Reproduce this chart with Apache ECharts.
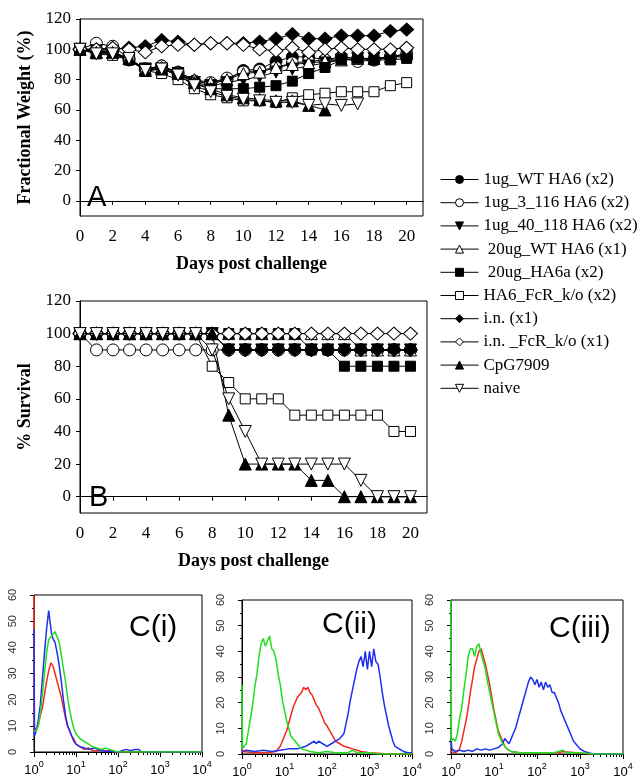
<!DOCTYPE html>
<html><head><meta charset="utf-8">
<script src="https://cdn.jsdelivr.net/npm/echarts@6/dist/echarts.min.js"></script>
<style>html,body{margin:0;padding:0;background:#fff}#c{width:643px;height:780px}</style>
</head><body><div id="c"></div><script>
// ---------- Panel A / B data ----------
const days = [0,1,2,3,4,5,6,7,8,9,10,11,12,13,14,15,16,17,18,19,20];
const dayTicks = [0,2,4,6,8,10,12,14,16,18,20];
const pctTicks = [0,20,40,60,80,100,120];
const names = ['1ug_WT HA6 (x2)','1ug_3_116 HA6 (x2)','1ug_40_118 HA6 (x2)',' 20ug_WT HA6 (x1)',' 20ug_HA6a (x2)','HA6_FcR_k/o (x2)','i.n. (x1)','i.n. _FcR_k/o (x1)','CpG7909','naive'];

// Fractional weight (%)
const wWT1    = [100,99,99,93,87,89,84,79,77,80,86,87,92,95,95,93,95,94,93,95,95];
const w3116   = [100,104,102,94,87,89,85,79,78,81,85,86,88,91,92,93,94,92,93,95,97];
const w40118  = [100,99,98,93,87,87,84,78,76,78,80,82,85,87,89,91,93,94,94,95,96];
const w20WT   = [100,98,98,94,87,88,85,80,78,80,84,85,88,90,91,92,93,94,94,95,97];
const wHA6a   = [100,98,97,93,86,87,83,77,74,74,74,75,76,79,84,88,93,94,93,93,94];
const wFcR    = [100,97,96,93,86,84,80,74,70,68,66,66,65,68,70,71,72,72,72,76,78];
const wIn     = [100,100,100,101,102,106,105,103,104,104,104,105,107,110,107,107,109,109,109,112,113];
const wInFcR  = [100,100,101,100,98,102,103,103,104,104,103,100,99,101,98,100,101,100,100,100,101];
const wCpG    = [100,98,98,94,86,87,84,78,74,70,68,67,66,66,63,60];
const wNaive  = [100,97,97,94,86,87,83,76,72,69,67,66,65,65,63,64,63,64];

// % Survival
const sWT1    = [100,100,100,100,100,100,100,100,100,90,90,90,90,90,90,90,90,90,90,90,90];
const s3116   = [100,90,90,90,90,90,90,90,90,90,90,90,90,90,90,90,90,90,90,90,90];
const s40118  = [100,100,100,100,100,100,100,100,100,90,90,90,90,90,90,90,90,90,90,90,90];
const s20WT   = [100,100,100,100,100,100,100,100,100,100,100,100,100,100,100,100,100,90,90,90,90];
const sHA6a   = [100,100,100,100,100,100,100,100,100,100,100,100,100,100,90,90,80,80,80,80,80];
const sFcR    = [100,100,100,100,100,100,100,100,80,70,60,60,60,50,50,50,50,50,50,40,40];
const sIn     = [100,100,100,100,100,100,100,100,100,90,90,90,90,90,90,90,90,90,90,90,90];
const sInFcR  = [100,100,100,100,100,100,100,100,100,100,100,100,100,100,100,100,100,100,100,100,100];
const sCpG    = [100,100,100,100,100,100,100,100,100,50,20,20,20,20,10,10,0,0,0,0,0];
const sNaive  = [100,100,100,100,100,100,100,100,90,60,40,20,20,20,20,20,20,10,0,0,0];

const weights = [wWT1,w3116,w40118,w20WT,wHA6a,wFcR,wIn,wInFcR,wCpG,wNaive];
const survival = [sWT1,s3116,s40118,s20WT,sHA6a,sFcR,sIn,sInFcR,sCpG,sNaive];
const symbols = ['circle','circle','triangle','triangle','rect','rect','diamond','diamond','triangle','triangle'];
const rotations = [0,0,180,0,0,0,0,0,0,180];
const filled = [true,false,true,false,true,false,true,false,true,false];
const sizes = {circle:12, triangle:12, rect:10, diamond:[14,13]};

// ---------- Panel C data (x = decades of log10 intensity, y = counts) ----------
const cExp = ['0','1','2','3','4'];
const cCounts = [0,10,20,30,40,50,60];
const c1Red = [[0,60],[0.01,8],[0.05,9],[0.1,10],[0.15,14],[0.2,17],[0.25,22],[0.3,27],[0.35,31],[0.4,34],[0.45,33],[0.5,30],[0.55,27],[0.6,24],[0.65,21],[0.7,17],[0.75,13],[0.8,10],[0.85,8],[0.9,6],[0.95,5],[1.0,3],[1.1,2],[1.2,1],[1.3,1.5],[1.4,0.5],[1.5,0.5],[1.6,1],[1.7,0.3],[1.8,0.5],[1.9,0],[4,0]];
const c1Blue = [[0,47],[0.01,6],[0.05,8],[0.1,12],[0.15,18],[0.2,28],[0.25,38],[0.3,47],[0.35,54],[0.38,50],[0.42,45],[0.46,43],[0.5,42],[0.55,38],[0.6,33],[0.65,27],[0.7,20],[0.75,14],[0.8,10],[0.85,8],[0.9,6],[0.95,4],[1.0,3],[1.1,2],[1.2,1.5],[1.3,1],[1.45,1.5],[1.6,0.5],[1.8,0.3],[2.0,0],[2.2,1],[2.3,0.5],[2.4,1],[2.5,1],[2.55,0],[4,0]];
const c1Green = [[0,8],[0.05,8],[0.1,10],[0.15,15],[0.2,22],[0.25,30],[0.3,38],[0.35,43],[0.4,44],[0.45,45],[0.5,46],[0.55,44],[0.6,42],[0.65,37],[0.7,32],[0.75,27],[0.8,21],[0.85,16],[0.9,12],[0.95,9],[1.0,7],[1.05,6],[1.1,5],[1.2,4],[1.3,3],[1.4,2],[1.5,1.5],[1.6,1],[1.7,1.5],[1.8,1],[1.9,0.5],[2.0,0],[4,0]];

const c2Red = [[0,2],[0.02,1],[0.3,0.5],[0.6,0.5],[0.8,1],[0.9,3],[1.0,7],[1.05,9],[1.1,12],[1.15,15],[1.2,18],[1.25,20],[1.3,22],[1.35,23],[1.4,24],[1.45,26],[1.5,25],[1.55,26],[1.6,24],[1.65,23],[1.7,21],[1.75,19],[1.8,18],[1.85,16],[1.9,14],[1.95,12],[2.0,11],[2.1,8],[2.2,5],[2.3,4],[2.4,3],[2.5,2.5],[2.6,2],[2.8,1],[3.0,0.5],[3.2,0.3],[3.4,0],[4,0]];
const c2Blue = [[0,1],[0.1,1.5],[0.3,1],[0.5,1.5],[0.7,1],[0.9,1.5],[1.1,2],[1.3,2],[1.5,3],[1.6,4],[1.7,5],[1.75,4],[1.8,5],[1.9,4],[2.0,3],[2.1,4],[2.2,5],[2.3,6],[2.35,7],[2.4,8],[2.45,12],[2.5,16],[2.55,21],[2.6,25],[2.65,29],[2.7,33],[2.75,36],[2.8,38],[2.85,34],[2.9,40],[2.95,33],[3.0,40],[3.05,34],[3.1,41],[3.15,36],[3.2,35],[3.25,30],[3.3,24],[3.35,19],[3.4,15],[3.45,11],[3.5,8],[3.55,5],[3.6,3],[3.7,2],[3.8,1],[3.9,0.5],[4,0.5]];
const c2Green = [[0,27],[0.01,2],[0.05,3],[0.1,4],[0.15,9],[0.2,14],[0.25,19],[0.3,26],[0.35,31],[0.4,38],[0.45,43],[0.5,45],[0.55,42],[0.6,44],[0.65,46],[0.7,41],[0.75,40],[0.8,37],[0.85,31],[0.9,27],[0.95,21],[1.0,17],[1.05,13],[1.1,10],[1.15,7],[1.2,6],[1.3,4],[1.4,2],[1.5,1.5],[1.6,1],[1.8,0.5],[2.0,1],[2.2,0.5],[2.5,0.5],[2.6,1.5],[2.7,0.5],[3.0,0.5],[3.2,0],[4,0]];

const c3Red = [[0,1],[0.1,0.5],[0.15,1],[0.2,2],[0.25,5],[0.3,9],[0.35,13],[0.4,18],[0.45,24],[0.5,29],[0.55,34],[0.6,37],[0.65,40],[0.7,41],[0.75,38],[0.8,35],[0.85,31],[0.9,27],[0.95,22],[1.0,17],[1.05,13],[1.1,9],[1.15,7],[1.2,5],[1.25,3],[1.3,2],[1.4,1],[1.6,0.5],[2.0,0.5],[2.5,0.5],[2.6,1],[3.0,0.3],[3.3,0],[4,0]];
const c3Blue = [[0,6],[0.02,2],[0.1,1],[0.2,1.5],[0.3,1],[0.4,1.5],[0.5,1],[0.6,2],[0.7,1.5],[0.8,2],[0.9,1.5],[1.0,2],[1.1,2.5],[1.2,4],[1.25,6],[1.3,5],[1.35,4],[1.4,6],[1.45,8],[1.5,10],[1.55,13],[1.6,16],[1.65,19],[1.7,22],[1.75,25],[1.8,28],[1.85,30],[1.9,29],[1.95,27],[2.0,29],[2.05,26],[2.1,28],[2.15,25],[2.2,28],[2.25,26],[2.3,27],[2.35,24],[2.4,24],[2.45,22],[2.5,20],[2.55,17],[2.6,15],[2.65,13],[2.7,11],[2.75,9],[2.8,7],[2.85,5],[2.9,4],[3.0,2],[3.1,1],[3.2,0.5],[3.3,0],[4,0]];
const c3Green = [[0,60],[0.01,5],[0.05,6],[0.1,5],[0.15,8],[0.2,14],[0.25,18],[0.3,25],[0.35,31],[0.4,38],[0.45,41],[0.5,41],[0.55,38],[0.6,42],[0.65,43],[0.7,39],[0.75,36],[0.8,33],[0.85,28],[0.9,24],[0.95,20],[1.0,16],[1.05,12],[1.1,8],[1.15,6],[1.2,4],[1.3,2],[1.4,1],[1.6,0.5],[2.0,0.5],[2.4,0.5],[2.6,1.5],[2.7,0.5],[3.0,0.5],[3.3,0],[4,0]];

const cRed = [c1Red,c2Red,c3Red], cBlue = [c1Blue,c2Blue,c3Blue], cGreen = [c1Green,c2Green,c3Green];
const cTitles = ['C(i)','C(ii)','C(iii)'];

// ---------- build ----------
const SERIF = 'Liberation Serif', SANS = 'Liberation Sans';
const chart = echarts.init(document.getElementById('c'), null, {renderer:'canvas'});

const grids = [
  {left:80, right:220, top:19, bottom:564},
  {left:80, right:216, top:301, bottom:267},
  {left:34, right:441, top:595, bottom:28},
  {left:242, right:231, top:600, bottom:26},
  {left:451, right:20, top:600, bottom:26}
].map(g => Object.assign({show:true, borderColor:'#000', borderWidth:1, backgroundColor:'transparent', containLabel:false}, g));

const blackLine = {show:true, lineStyle:{color:'#000', width:1}};
function dayAxis(gi){
  return {gridIndex:gi, type:'value', min:0, max:21,
    name:'Days post challenge', nameLocation:'middle', nameGap:39,
    nameTextStyle:{fontFamily:SERIF, fontSize:18, fontWeight:'bold', color:'#000'},
    axisLine:blackLine, splitLine:{show:false},
    axisTick:{show:true, inside:false, length:4, customValues:dayTicks, lineStyle:{color:'#000'}},
    axisLabel:{customValues:dayTicks, fontFamily:SERIF, fontSize:17, color:'#000', margin:12}};
}
function pctAxis(gi, name){
  return {gridIndex:gi, type:'value', min:-10, max:120,
    name:name, nameLocation:'middle', nameGap:46,
    nameTextStyle:{fontFamily:SERIF, fontSize:18, fontWeight:'bold', color:'#000'},
    axisLine:blackLine, splitLine:{show:false},
    axisTick:{show:true, length:4, customValues:pctTicks, lineStyle:{color:'#000'}},
    axisLabel:{customValues:pctTicks, fontFamily:SERIF, fontSize:17, color:'#000', margin:9}};
}
const minorVals = [];
[0,1,2,3].forEach(d => [2,3,4,5,6,7,8,9].forEach(k => minorVals.push(d + Math.log10(k))));

const xAxes = [dayAxis(0), dayAxis(1)];
const yAxes = [pctAxis(0,'Fractional Weight (%)'), pctAxis(1,'% Survival')];
for (let i=0;i<3;i++){
  xAxes.push({gridIndex:2+i, type:'value', min:0, max:4, interval:1, position:'bottom',
    axisLine:{show:true, lineStyle:{color:'#000', width:1}}, splitLine:{show:false},
    axisTick:{show:true, length:5, lineStyle:{color:'#000'}},
    axisLabel:{margin:8, fontFamily:SANS, color:'#000',
      formatter:(v)=>'{b|10}{s|'+cExp[Math.round(v)]+'}',
      rich:{b:{fontFamily:SANS, fontSize:13, color:'#000', verticalAlign:'bottom'}, s:{fontFamily:SANS, fontSize:9, color:'#000', verticalAlign:'top', padding:[0,0,8,0]}}}});
  yAxes.push({gridIndex:2+i, type:'value', min:0, max:60, interval:10,
    axisLine:{show:true, lineStyle:{color:'#000', width:1}}, splitLine:{show:false},
    axisTick:{show:true, length:4, lineStyle:{color:'#000'}},
    minorTick:{show:true, splitNumber:2, length:2, lineStyle:{color:'#000'}},
    axisLabel:{rotate:90, margin:16, fontFamily:SANS, fontSize:11, color:'#333', customValues:cCounts}});
}
for (let i=0;i<3;i++){
  xAxes.push({gridIndex:2+i, type:'value', min:0, max:4, position:'bottom', offset:0,
    axisLine:{show:false}, splitLine:{show:false}, axisLabel:{show:false},
    axisTick:{show:true, length:3, customValues:minorVals, lineStyle:{color:'#000'}}});
}

const series = [];
function markerSeries(arrs, xi, yi){
  arrs.forEach((arr, i) => {
    series.push({type:'line', name:names[i], xAxisIndex:xi, yAxisIndex:yi,
      data: arr.map((v, j) => [days[j], v]),
      symbol:symbols[i], symbolSize:sizes[symbols[i]], symbolRotate:rotations[i], showSymbol:true,
      lineStyle:{color:'#000', width:1},
      itemStyle:{color: filled[i] ? '#000' : '#fff', borderColor:'#000', borderWidth:1},
      emphasis:{disabled:true}, animation:false, z:2+i*0.01});
  });
}
markerSeries(weights, 0, 0);
markerSeries(survival, 1, 1);

for (let i=0;i<3;i++){
  [[cRed[i],'#f2291f'],[cBlue[i],'#1f2ef0'],[cGreen[i],'#1fe01f']].forEach(([d,col]) => {
    series.push({type:'line', xAxisIndex:2+i, yAxisIndex:2+i, data:d, showSymbol:false, symbol:'none',
      lineStyle:{color:col, width:1.5}, emphasis:{disabled:true}, animation:false, clip:true});
  });
}

const graphics = [
  {type:'text', left:87, top:183, style:{text:'A', fontFamily:SANS, fontSize:29, fill:'#000'}},
  {type:'text', left:89, top:483, style:{text:'B', fontFamily:SANS, fontSize:29, fill:'#000'}},
  {type:'text', left:129, top:613, style:{text:cTitles[0], fontFamily:SANS, fontSize:30, fill:'#000'}},
  {type:'text', left:322, top:610, style:{text:cTitles[1], fontFamily:SANS, fontSize:30, fill:'#000'}},
  {type:'text', left:549, top:614, style:{text:cTitles[2], fontFamily:SANS, fontSize:30, fill:'#000'}}
];

chart.setOption({
  backgroundColor:'#fff',
  animation:false,
  grid:grids, xAxis:xAxes, yAxis:yAxes, series:series,
  legend:{data:names, orient:'vertical', left:440, top:171, padding:0, itemWidth:38, itemHeight:10, itemGap:6.2,
    selectedMode:false, lineStyle:{width:1}, itemStyle:{borderWidth:1},
    textStyle:{fontFamily:SERIF, fontSize:17, color:'#000', lineHeight:16}},
  graphic:graphics
});
</script></body></html>
